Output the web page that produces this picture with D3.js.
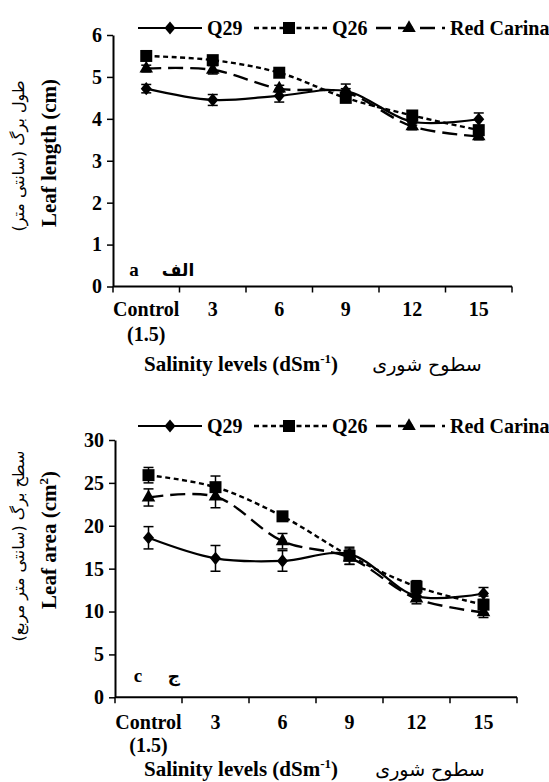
<!DOCTYPE html>
<html>
<head>
<meta charset="utf-8">
<script src="https://cdn.jsdelivr.net/npm/d3@7"></script>
<style>
body { margin: 0; background: #fff; }
text { font-family: "Liberation Serif", "Times New Roman", serif; font-weight: bold; fill: #000; }
.fa { font-family: "DejaVu Sans", sans-serif; font-weight: normal; }
</style>
</head>
<body>
<svg id="chart" width="549" height="782"></svg>
<script>
// salinity levels (x categories)
var categories = ["Control", "3", "6", "9", "12", "15"];
var seriesNames = ["Q29", "Q26", "Red Carina"];

// leaf length (cm)
var lengthQ29 = [4.72, 4.45, 4.55, 4.66, 3.93, 3.99];
var lengthQ26 = [5.5, 5.4, 5.1, 4.5, 4.08, 3.73];
var lengthRC  = [5.2, 5.17, 4.72, 4.63, 3.82, 3.58];
var lengthErrQ29 = [0.1, 0.13, 0.15, 0.06, 0.08, 0.15];
var lengthErrQ26 = [0.08, 0.08, 0.08, 0.08, 0.08, 0.1];
var lengthErrRC  = [0.08, 0.1, 0.08, 0.2, 0.08, 0.08];
var lengthTicks = [0, 1, 2, 3, 4, 5, 6];

// leaf area (cm2)
var areaQ29 = [18.6, 16.2, 15.9, 16.7, 11.8, 12.1];
var areaQ26 = [25.9, 24.5, 21.1, 16.5, 12.9, 10.8];
var areaRC  = [23.3, 23.4, 18.2, 16.3, 11.5, 9.9];
var areaErrQ29 = [1.3, 1.5, 1.2, 0.6, 0.6, 0.7];
var areaErrQ26 = [0.9, 1.3, 0.5, 1.0, 0.7, 1.0];
var areaErrRC  = [1.0, 1.3, 0.9, 0.8, 0.6, 0.6];
var areaTicks = [0, 5, 10, 15, 20, 25, 30];

var svg = d3.select("#chart");

// custom diamond, a bit wider than d3's
var diamond = {
  draw: function(ctx, size) {
    var w = Math.sqrt(size) * 0.5, h = w * 1.2;
    ctx.moveTo(0, -h); ctx.lineTo(w, 0); ctx.lineTo(0, h); ctx.lineTo(-w, 0); ctx.closePath();
  }
};
var markers = [d3.symbol().type(diamond).size(121),
               d3.symbol().type(d3.symbolSquare).size(144),
               d3.symbol().type(d3.symbolTriangle).size(80)];
var dashes = [null, "5,3.5", "15,7"];
var widths = [2.2, 2.4, 2.4];

function drawPanel(p) {
  var x = d3.scaleBand().domain(categories).range([p.x0, p.x1]).padding(0);
  var y = d3.scaleLinear().domain([0, d3.max(p.ticks)]).range([p.yBottom, p.yTop]);
  var cx = function(i) { return x(categories[i]) + x.bandwidth() / 2; };
  var g = svg.append("g");

  // y axis
  var yAxis = d3.axisLeft(y).tickValues(p.ticks).tickFormat(d3.format("d"))
    .tickSize(6).tickSizeOuter(0).tickPadding(5);
  var ya = g.append("g").attr("transform", "translate(" + p.x0 + ",0)").call(yAxis);
  ya.select(".domain").attr("stroke", "#000").attr("stroke-width", 2);
  ya.selectAll(".tick line").attr("stroke", "#000").attr("stroke-width", 1.5);
  ya.selectAll(".tick text").style("font-size", "20px").style("font-family", "Liberation Serif").style("font-weight", "bold");

  // x axis: line + boundary ticks
  g.append("line").attr("x1", p.x0).attr("x2", p.x1).attr("y1", y(0)).attr("y2", y(0))
    .attr("stroke", "#000").attr("stroke-width", 2);
  var bounds = categories.map(function(c) { return x(c); }).concat([p.x1]);
  g.selectAll(".xt").data(bounds).enter().append("line")
    .attr("x1", function(d) { return d; }).attr("x2", function(d) { return d; })
    .attr("y1", y(0)).attr("y2", y(0) + 6)
    .attr("stroke", "#000").attr("stroke-width", 1.5);
  g.selectAll(".xl").data(categories).enter().append("text")
    .attr("x", function(d, i) { return cx(i); })
    .attr("y", p.catY)
    .attr("text-anchor", "middle")
    .style("font-size", "20px")
    .text(function(d) { return d; });
  g.append("text").attr("x", cx(0)).attr("y", p.catY + p.subGap)
    .attr("text-anchor", "middle").style("font-size", "20px").text("(1.5)");

  // x title
  var xt = g.append("text").attr("x", 144).attr("y", p.titleY).style("font-size", "21px");
  xt.append("tspan").text("Salinity levels (dSm");
  xt.append("tspan").attr("dy", -8).style("font-size", "13px").text("-1");
  xt.append("tspan").attr("dy", 8).text(")");
  g.append("text").attr("class", "fa").attr("x", p.faTitleX).attr("y", p.titleY)
    .attr("text-anchor", "middle").style("font-size", "19px").text("سطوح شوری");

  // y titles
  g.append("text").attr("class", "fa")
    .attr("transform", "translate(24," + p.faLabelY + ") rotate(-90)")
    .attr("text-anchor", "middle").style("font-size", p.faLabelSize).text(p.faLabel);
  var yt = g.append("text")
    .attr("transform", "translate(56," + p.enLabelY + ") rotate(-90)")
    .attr("text-anchor", "middle").style("font-size", "21px");
  yt.append("tspan").text(p.enLabel);
  if (p.enSup) {
    yt.append("tspan").attr("dy", -8).style("font-size", "13px").text(p.enSup);
    yt.append("tspan").attr("dy", 8).text(")");
  }

  // panel letters
  g.append("text").attr("x", p.letterX).attr("y", p.letterY).attr("text-anchor", "middle")
    .style("font-size", "19px").text(p.letter);
  g.append("text").attr("class", "fa").attr("x", p.faLetterX).attr("y", p.letterY).attr("text-anchor", "middle")
    .style("font-size", "17px").style("font-weight", "bold").text(p.faLetter);

  // series
  var line = d3.line().x(function(d, i) { return cx(i); }).y(function(d) { return y(d); })
    .curve(d3.curveCatmullRom.alpha(0.5));
  p.series.forEach(function(vals, s) {
    var errs = p.errors[s];
    var sg = g.append("g");
    vals.forEach(function(v, i) {
      var e = errs[i];
      sg.append("line").attr("x1", cx(i)).attr("x2", cx(i)).attr("y1", y(v - e)).attr("y2", y(v + e))
        .attr("stroke", "#000").attr("stroke-width", 1.5);
      [v - e, v + e].forEach(function(t) {
        sg.append("line").attr("x1", cx(i) - 5).attr("x2", cx(i) + 5).attr("y1", y(t)).attr("y2", y(t))
          .attr("stroke", "#000").attr("stroke-width", 1.5);
      });
    });
    sg.append("path").datum(vals).attr("d", line).attr("fill", "none")
      .attr("stroke", "#000").attr("stroke-width", widths[s])
      .attr("stroke-dasharray", dashes[s]);
    sg.selectAll("path.m").data(vals).enter().append("path").attr("class", "m")
      .attr("d", markers[s])
      .attr("transform", function(d, i) { return "translate(" + cx(i) + "," + y(d) + ")"; })
      .attr("fill", "#000");
  });

  // legend
  var lx = [[138, 202, 170, 207], [254, 328, 289, 332], [376, 445, 409, 450]];
  seriesNames.forEach(function(name, s) {
    var l = lx[s];
    g.append("line").attr("x1", l[0]).attr("x2", l[1]).attr("y1", p.legendY).attr("y2", p.legendY)
      .attr("stroke", "#000").attr("stroke-width", widths[s]).attr("stroke-dasharray", dashes[s]);
    g.append("path").attr("d", markers[s]).attr("transform", "translate(" + l[2] + "," + p.legendY + ")");
    g.append("text").attr("x", l[3]).attr("y", p.legendY + 7).style("font-size", "20px").text(name);
  });
}

drawPanel({
  x0: 113, x1: 512, yTop: 35, yBottom: 286.5, ticks: lengthTicks,
  series: [lengthQ29, lengthQ26, lengthRC],
  errors: [lengthErrQ29, lengthErrQ26, lengthErrRC],
  catY: 316, subGap: 25, titleY: 371, faTitleX: 427,
  faLabel: "طول برگ (سانتی متر)", faLabelY: 156, faLabelSize: "16px",
  enLabel: "Leaf length (cm)", enSup: null, enLabelY: 153,
  letter: "a", letterX: 134, faLetter: "الف", faLetterX: 178, letterY: 276,
  legendY: 28
});

drawPanel({
  x0: 115, x1: 517, yTop: 440, yBottom: 697.3, ticks: areaTicks,
  series: [areaQ29, areaQ26, areaRC],
  errors: [areaErrQ29, areaErrQ26, areaErrRC],
  catY: 729, subGap: 23, titleY: 776, faTitleX: 430,
  faLabel: "سطح برگ (سانتی متر مربع)", faLabelY: 546, faLabelSize: "16px",
  enLabel: "Leaf area (cm", enSup: "2", enLabelY: 540,
  letter: "c", letterX: 138, faLetter: "ج", faLetterX: 174, letterY: 682,
  legendY: 426
});
</script>
</body>
</html>
